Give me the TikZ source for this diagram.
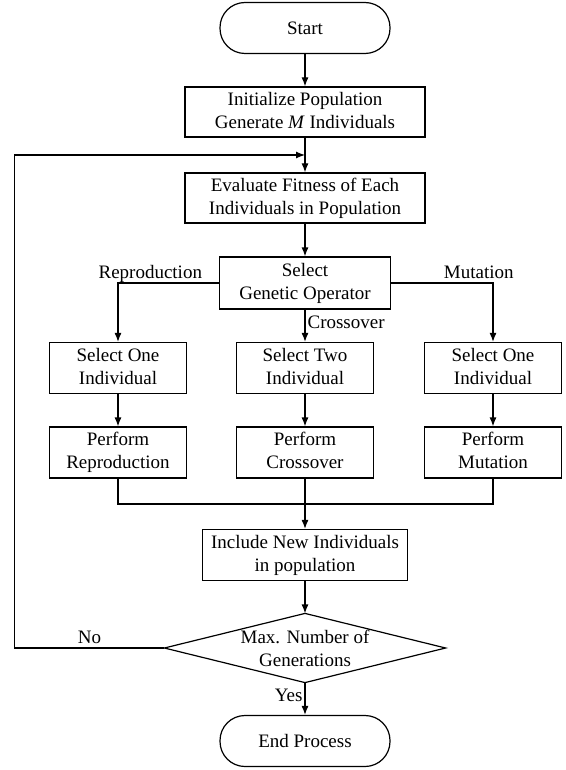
\documentclass[tikz,border=0pt]{standalone}
\usepackage{fontspec}
\setmainfont{Liberation Serif}
\usetikzlibrary{arrows.meta, positioning}

\begin{document}
\begin{tikzpicture}[node distance=85pt, on grid, line width=1.2pt, >={Latex[length=9pt,width=7pt]}, font={\fontsize{19}{23}\selectfont}]
  \tikzstyle{terminal} = [draw, rectangle, rounded corners=25pt, minimum height=51pt, minimum width=170pt, align=center]
  \tikzstyle{process} = [draw, rectangle, minimum height=50pt, align=center, inner sep=3pt, execute at end node=\vphantom{p}]
  \tikzstyle{wideProcess} = [process, minimum width=240pt]
  \tikzstyle{opBox} = [process, minimum width=137pt, minimum height=51pt]
  \tikzstyle{decision} = [rectangle, minimum width=280pt, minimum height=68pt, inner sep=0pt, align=center]
  \tikzstyle{flowEdge} = [->];
  \tikzstyle{edgeLabel} = [inner sep=2pt, text height=1.5ex, text depth=0.4ex];

  \useasboundingbox (0,0) rectangle (565pt,-770pt);

  \node[terminal] (start) at (305pt,-28pt) {Start};
  \node[wideProcess] (init) [below=84pt of start] {Initialize Population\\Generate \textit{M} Individuals};
  \node[wideProcess] (eval) [below=86pt of init] {Evaluate Fitness of Each\\Individuals in Population};
  \node[process, minimum width=171pt, minimum height=52pt] (go) [below=85pt of eval] {Select\\Genetic Operator};

  \node[opBox] (sel2) [below=85pt of go] {Select Two\\Individual};
  \node[opBox] (sel1) [left=187pt of sel2] {Select One\\Individual};
  \node[opBox] (sel3) [right=188pt of sel2] {Select One\\Individual};

  \node[opBox] (perf1) [below=84.5pt of sel1] {Perform\\Reproduction};
  \node[opBox] (perf2) [below=84.5pt of sel2] {Perform\\Crossover};
  \node[opBox] (perf3) [below=84.5pt of sel3] {Perform\\Mutation};

  \coordinate[below=51.5pt of perf2] (merge);
  \node[process, minimum width=205pt, minimum height=51pt] (incl) [below=102.5pt of perf2] {Include New Individuals\\in population};
  \node[decision] (dec) [below=93pt of incl] {Max. Number of\\Generations};
  \node[terminal] (end) [below=93pt of dec] {End Process};
  \coordinate[below=43pt of init] (back);

  % diamond outline
  \draw (dec.north) -- (dec.east) -- (dec.south) -- (dec.west) -- cycle;

  \draw[flowEdge] (start) -- (init);
  \draw[flowEdge] (init) -- (eval);
  \draw[flowEdge] (eval) -- (go);
  \draw[flowEdge] (go.west) -| node[edgeLabel, above, pos=0.34] {Reproduction} (sel1);
  \draw[flowEdge] (go) -- node[edgeLabel, right] {Crossover} (sel2);
  \draw[flowEdge] (go.east) -| node[edgeLabel, above, pos=0.43] {Mutation} (sel3);
  \foreach \i in {1,2,3}
    \draw[flowEdge] (sel\i) -- (perf\i);
  \draw (perf1) |- (merge) -| (perf3);
  \draw[flowEdge] (perf2) -- (incl);
  \draw[flowEdge] (incl) -- (dec.north);
  \draw[flowEdge] (dec.south) -- node[edgeLabel, left] {Yes} (end);
  \draw[flowEdge] (dec.west) -- node[edgeLabel, above, pos=0.5] {No} ++(-150pt,0) |- (back);
\end{tikzpicture}
\end{document}
